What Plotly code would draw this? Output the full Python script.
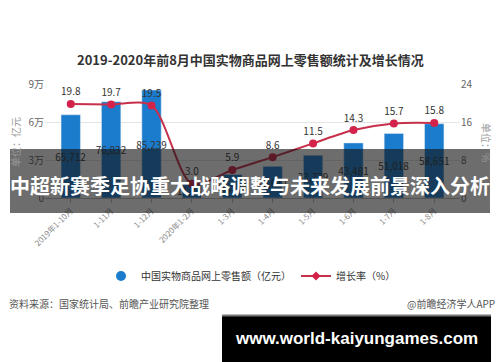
import plotly.graph_objects as go

categories = ["2019年1-10月", "1-11月", "1-12月", "2020年1-2月", "1-3月",
              "1-4月", "1-5月", "1-6月", "1-7月", "1-8月"]
sales = [65712, 76032, 85239, 11233, 18536, 25011, 33739, 43481, 51018, 58651]
growth = [19.8, 19.7, 19.5, 3.0, 5.9, 8.6, 11.5, 14.3, 15.7, 15.8]
left_ticks = [0, 30000, 60000, 90000]
left_ticktext = ["0", "3万", "6万", "9万"]
right_ticks = [0, 8, 16, 24]

BLUE = "#1b7ccd"
RED = "#c7304b"
CJK = "Noto Sans CJK SC"

fig = go.Figure()
fig.add_trace(go.Bar(
    x=categories, y=sales, marker_color=BLUE, showlegend=False,
    texttemplate="%{y:,}", textposition="inside", insidetextanchor="middle",
    textangle=0, constraintext="none",
    textfont=dict(family=CJK, size=10, color="#333333"),
))
fig.add_trace(go.Scatter(
    x=categories, y=growth, yaxis="y2", mode="lines+markers+text",
    line=dict(color=RED, width=2, shape="spline", smoothing=0.8),
    marker=dict(color="#d3234a", size=8),
    text=[f"{g:.1f}" for g in growth], textposition="top center",
    textfont=dict(family=CJK, size=10, color="#333333"),
    showlegend=False, cliponaxis=False,
))
# legend entries
fig.add_trace(go.Scatter(x=[None], y=[None], mode="markers", name="中国实物商品网上零售额（亿元）",
                         marker=dict(color=BLUE, size=10, symbol="circle")))
fig.add_trace(go.Scatter(x=[None], y=[None], mode="lines+markers", name="增长率（%）",
                         line=dict(color=RED, width=2),
                         marker=dict(color="#d3234a", size=7, symbol="diamond")))

PL, PR, PT, PB = 45, 460, 84, 198
def px(x):
    return (x - PL) / (PR - PL)
def py(y):
    return (PB - y) / (PB - PT)

fig.update_layout(
    width=500, height=362,
    margin=dict(l=PL, r=500 - PR, t=PT, b=362 - PB, autoexpand=False),
    paper_bgcolor="white", plot_bgcolor="white",
    font=dict(family=CJK, color="#555555"),
    bargap=0.52,
    xaxis=dict(tickangle=-45, tickfont=dict(size=8, color="#888888"),
               showline=True, linecolor="#bbbbbb", ticks="outside",
               ticklen=4, tickcolor="#bbbbbb", automargin=False),
    yaxis=dict(range=[0, 90000], tickvals=left_ticks, ticktext=left_ticktext,
               gridcolor="#e4e4e4", zeroline=False, showline=False, automargin=False,
               tickfont=dict(size=10, color="#666666")),
    yaxis2=dict(range=[0, 24], tickvals=right_ticks, overlaying="y", side="right",
                showgrid=False, zeroline=False, showline=False, automargin=False,
                tickfont=dict(size=10, color="#666666")),
    legend=dict(orientation="h", x=px(251), y=py(276), xanchor="center", yanchor="middle",
                font=dict(size=10, color="#333333"), bgcolor="rgba(0,0,0,0)"),
    showlegend=True,
)

shapes = [
    dict(type="rect", xref="paper", yref="paper", x0=px(10), x1=px(490), y0=py(149), y1=py(213),
         fillcolor="rgba(20,20,20,0.62)", line=dict(width=0), layer="above"),
    dict(type="rect", xref="paper", yref="paper", x0=px(222), x1=px(491), y0=py(315), y1=py(362),
         fillcolor="black", line=dict(width=0), layer="above"),
    dict(type="line", xref="paper", yref="paper", x0=px(222), x1=px(491), y0=py(315.5), y1=py(315.5),
         line=dict(color="#777777", width=2), layer="above"),
]
fig.update_layout(shapes=shapes)

annotations = [
    dict(text="<b>2019-2020年前8月中国实物商品网上零售额统计及增长情况</b>", x=px(250), y=py(59),
         font=dict(size=13, color="#333333")),
    dict(text="单位：亿元", x=px(15), y=py(142), textangle=-90, font=dict(size=10, color="#999999")),
    dict(text="单位：%", x=px(487), y=py(142), textangle=90, font=dict(size=10, color="#999999")),
    dict(text="资料来源：国家统计局、前瞻产业研究院整理", x=px(7), y=py(303), xanchor="left",
         font=dict(size=10, color="#555555")),
    dict(text="@前瞻经济学人APP", x=px(497), y=py(303), xanchor="right",
         font=dict(size=10, color="#555555")),
    dict(text="<b>中超新赛季足协重大战略调整与未来发展前景深入分析</b>", x=px(250), y=py(185),
         font=dict(size=20, color="white")),
    dict(text="<b>www.world-kaiyungames.com</b>", x=px(356), y=py(338),
         font=dict(size=17, color="white", family="Liberation Sans")),
]
for a in annotations:
    a.setdefault("xanchor", "center")
    a.update(xref="paper", yref="paper", yanchor="middle", showarrow=False)
fig.update_layout(annotations=annotations)

fig.write_html("out.html", config={"displayModeBar": False},
               post_script="document.body.style.margin='0';document.body.style.overflow='hidden';")
